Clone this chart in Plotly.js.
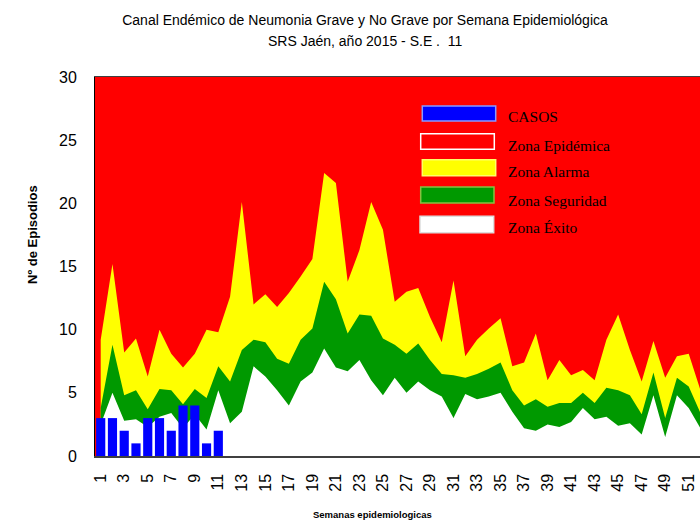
<!DOCTYPE html>
<html><head><meta charset="utf-8">
<script src="https://cdn.plot.ly/plotly-3.0.1.min.js"></script>
<style>html,body{margin:0;padding:0;background:#fff}</style>
</head><body><div id="chart" style="width:700px;height:520px"></div>
<script>
// ---- data ----
const weeks = [1,2,3,4,5,6,7,8,9,10,11,12,13,14,15,16,17,18,19,20,21,22,23,24,25,26,
  27,28,29,30,31,32,33,34,35,36,37,38,39,40,41,42,43,44,45,46,47,48,49,50,51,52];
const casosWeeks = [1,2,3,4,5,6,7,8,9,10,11];
const casos = [3,3,2,1,3,3,2,4,4,1,2];
const zonaEpidemica = [30,30,30,30,30,30,30,30,30,30,30,30,30,30,30,30,30,30,30,30,30,30,30,30,30,30,
  30,30,30,30,30,30,30,30,30,30,30,30,30,30,30,30,30,30,30,30,30,30,30,30,30,30];
const zonaAlarma = [9.2,15.2,8.2,9.3,6.3,10.0,8.1,7.0,8.1,10.0,9.8,12.6,20.1,12.0,12.8,11.8,12.9,14.2,15.6,22.4,
  21.6,13.8,16.3,20.1,17.9,12.2,13.0,13.3,11.0,9.0,13.9,7.9,9.2,10.1,10.9,7.1,7.4,9.7,6.0,7.6,
  6.4,6.8,6.0,9.2,11.2,8.4,5.9,9.1,6.2,7.9,8.1,5.2];
const zonaSeguridad = [3.8,8.8,4.8,5.2,3.7,5.3,5.2,4.1,5.3,4.6,7.1,5.9,8.4,9.2,9.0,7.7,7.3,9.2,10.1,13.8,
  12.4,9.7,11.2,11.1,9.3,8.8,8.1,8.9,7.6,6.5,6.4,6.2,6.5,6.9,7.4,5.2,4.0,4.5,3.9,4.2,
  4.2,5.0,4.2,5.4,5.2,4.8,3.3,6.6,3.0,6.2,5.5,3.4];
const zonaExito = [2.5,5.0,2.8,2.9,2.3,3.1,3.4,2.2,3.3,2.1,5.2,2.6,3.5,7.1,6.3,5.2,4.0,5.9,6.6,8.5,
  7.0,6.7,7.6,6.0,4.8,6.2,5.0,5.9,5.2,4.7,3.0,4.9,4.5,4.7,5.0,3.5,2.2,2.0,2.5,2.3,
  2.7,3.8,2.9,3.1,2.4,2.6,1.7,4.8,1.5,4.8,3.8,2.2];
const tickWeeks = [1,3,5,7,9,11,13,15,17,19,21,23,25,27,29,31,33,35,37,39,41,43,45,47,49,51];
const tickLabels = ['1','3','5','7','9','11','13','15','17','19','21','23','25','27','29','31','33','35','37','39','41','43','45','47','49','51'];
const seriesNames = ['CASOS','Zona Epidémica','Zona Alarma','Zona Seguridad','Zona Éxito'];
const titleLines = ['Canal Endémico de Neumonia Grave y No Grave por Semana Epidemiológica','SRS Jaén, año 2015 - S.E . \u00a011'];
const xTitle = 'Semanas epidemiologicas';
const yTitle = 'Nº de Episodios';

// ---- styles ----
const COL = {casos:'#0000ff', epi:'#ff0000', alarma:'#ffff00', seg:'#009900', exito:'#ffffff'};
const L = 95, R = 700, T = 77, B = 456;
const px = v => (v - L) / (R - L);
const py = v => (B - v) / (B - T);
const SANS = 'Liberation Sans, Arial, sans-serif';
const SERIF = 'Liberation Serif, Times New Roman, serif';
const XR = [0.515, 51.96];

function area(y, name, color){
  return {type:'scatter', mode:'none', x:weeks, y:y, name:name, fill:'tozeroy',
          fillcolor:color, hoverinfo:'skip', showlegend:false};
}
const traces = [
  area(zonaEpidemica, seriesNames[1], COL.epi),
  area(zonaAlarma, seriesNames[2], COL.alarma),
  area(zonaSeguridad, seriesNames[3], COL.seg),
  area(zonaExito, seriesNames[4], COL.exito),
  {type:'bar', x:casosWeeks, y:casos, name:seriesNames[0], width:0.78, xaxis:'x2', yaxis:'y',
   marker:{color:COL.casos, line:{width:0}}, hoverinfo:'skip', showlegend:false}
];

// manual legend (wide swatches like the reference)
const legendRows = [
  {x0:422.3, x1:495.7, y0:106,   y1:121,   fill:COL.casos,  line:'#8899ff', ty:116.7},
  {x0:420.7, x1:494.3, y0:133.7, y1:149.3, fill:COL.epi,    line:'#ffffff', ty:145},
  {x0:422.3, x1:495.7, y0:159.7, y1:175.7, fill:COL.alarma, line:'#ffff66', ty:171.7},
  {x0:420.7, x1:494.0, y0:187,   y1:203,   fill:COL.seg,    line:'#88c040', ty:200},
  {x0:420.0, x1:493.7, y0:216.3, y1:232.7, fill:COL.exito,  line:'#dddddd', ty:227.7}
];
const shapes = legendRows.map(r => ({type:'rect', xref:'paper', yref:'paper',
  x0:px(r.x0), x1:px(r.x1), y0:py(r.y1), y1:py(r.y0),
  fillcolor:r.fill, line:{color:r.line, width:1.5}, layer:'above'}));
const annotations = legendRows.map((r,i) => ({xref:'paper', yref:'paper', x:px(505.5), y:py(r.ty),
  xanchor:'left', yanchor:'middle', showarrow:false, text:seriesNames[i],
  font:{family:SERIF, size:15.5, color:'#000'}}));
annotations.push({xref:'paper', yref:'paper', x:px(32), y:py(235), textangle:-90,
  xanchor:'center', yanchor:'middle', showarrow:false, text:'<b>'+yTitle+'</b>',
  font:{family:SANS, size:13, color:'#000'}});
annotations.push({xref:'paper', yref:'paper', x:px(372), y:py(514),
  xanchor:'center', yanchor:'middle', showarrow:false, text:'<b>'+xTitle+'</b>',
  font:{family:SANS, size:9.5, color:'#000'}});
annotations.push({xref:'paper', yref:'paper', x:px(365), y:py(41),
  xanchor:'center', yanchor:'middle', showarrow:false, text:titleLines[1],
  font:{family:SANS, size:14, color:'#000'}});

const layout = {
  width:700, height:520,
  margin:{l:L, r:0, t:T, b:520-B, pad:0},
  paper_bgcolor:'#ffffff', plot_bgcolor:COL.epi,
  showlegend:false, barmode:'overlay',
  title:{text:titleLines[0], font:{family:SANS, size:14, color:'#000'},
         x:365/700, xref:'container', xanchor:'center', y:1-20/520, yref:'container', yanchor:'middle'},
  xaxis:{range:XR, tickvals:tickWeeks, ticktext:tickLabels, tickangle:-90,
         tickfont:{family:SANS, size:16, color:'#000'}, showgrid:false, zeroline:false,
         showline:true, linecolor:'#404040', linewidth:1.5, mirror:true, ticks:'',
         ticklabelstandoff:10, fixedrange:true},
  xaxis2:{range:XR, overlaying:'x', visible:false, showgrid:false, zeroline:false, fixedrange:true},
  yaxis:{range:[0,30], dtick:5, tick0:0, tickfont:{family:SANS, size:16, color:'#000'},
         showgrid:false, zeroline:false, showline:true, linecolor:'#000', linewidth:1,
         ticks:'', ticklabelstandoff:14, fixedrange:true},
  shapes:shapes, annotations:annotations
};
Plotly.newPlot('chart', traces, layout, {staticPlot:true, displayModeBar:false});
</script></body></html>
